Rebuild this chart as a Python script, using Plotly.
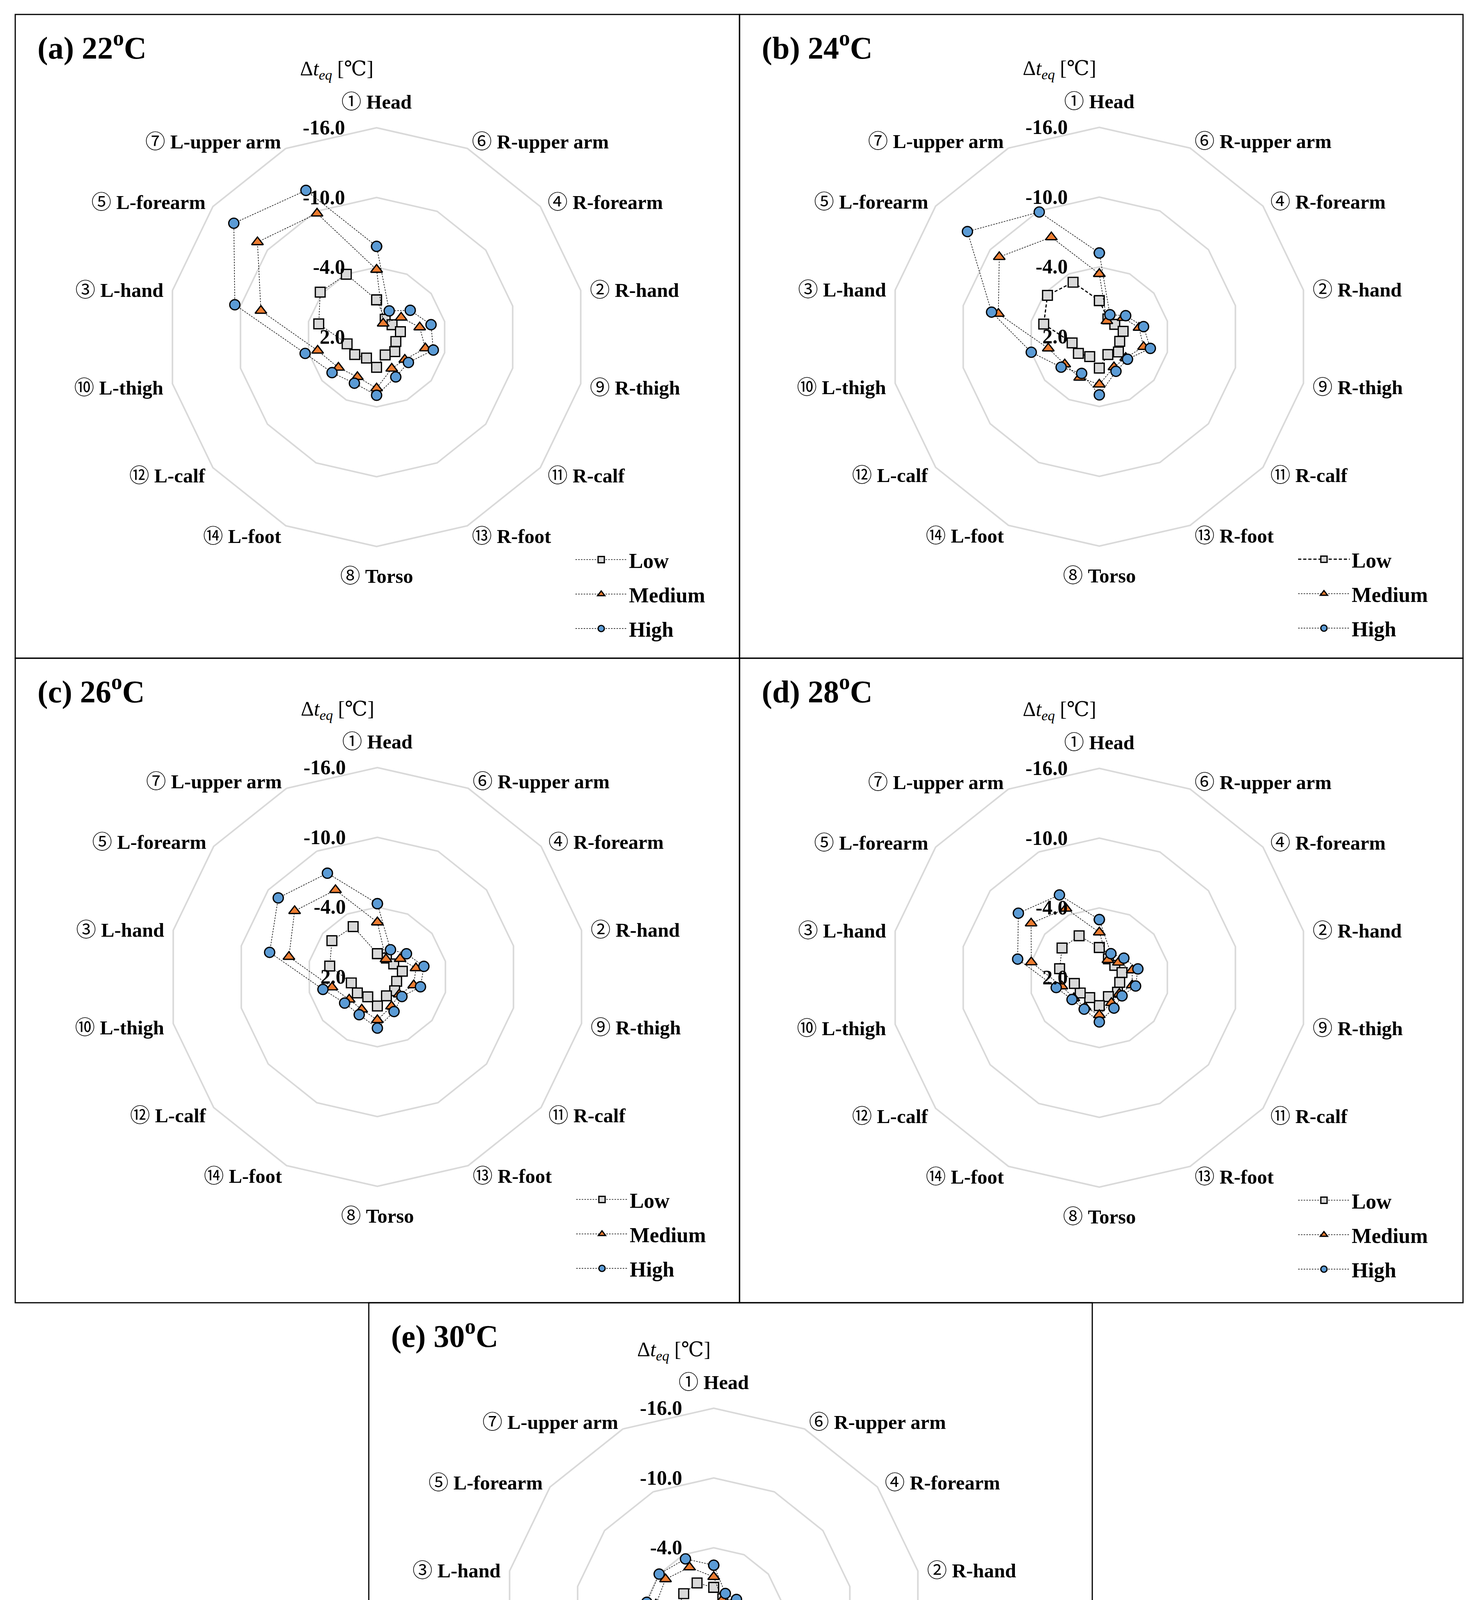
import math
import plotly.graph_objects as go

W, H = 3768, 5007

categories = ["① Head", "⑥ R-upper arm", "④ R-forearm", "② R-hand", "⑨ R-thigh",
              "⑪ R-calf", "⑬ R-foot", "⑧ Torso", "⑭ L-foot", "⑫ L-calf",
              "⑩ L-thigh", "③ L-hand", "⑤ L-forearm", "⑦ L-upper arm"]
levels = ["Low", "Medium", "High"]
panel_titles = ["(a) 22<sup>o</sup>C", "(b) 24<sup>o</sup>C", "(c) 26<sup>o</sup>C",
                "(d) 28<sup>o</sup>C", "(e) 30<sup>o</sup>C"]
tick_values = [2, -4, -10, -16]
tick_labels = ["2.0", "-4.0", "-10.0", "-16.0"]

# Delta t_eq values [°C], order as categories
low_22 = [-1.2, 0.3, 0.3, -0.1, 0.3, 0.0, 0.3, -0.6, 0.0, -0.4, -0.6, -3.1, -4.2, -4.0]
med_22 = [-3.8, 0.7, -0.7, -1.8, -2.3, -1.1, -1.0, -2.4, -1.8, -2.2, -3.2, -8.2, -11.1, -9.8]
high_22 = [-5.8, -0.5, -1.7, -2.8, -3.0, -1.5, -1.8, -3.0, -2.4, -2.9, -4.3, -10.5, -13.7, -12.0]

low_24 = [-1.1, 0.3, 0.3, -0.1, 0.2, -0.1, 0.3, -0.7, 0.1, -0.3, -0.4, -2.9, -3.7, -3.2]
med_24 = [-3.4, 0.5, -0.6, -1.5, -1.9, -0.9, -0.9, -2.1, -1.9, -1.8, -2.5, -6.9, -9.0, -7.5]
high_24 = [-5.2, -0.1, -0.9, -1.9, -2.5, -1.1, -1.3, -3.0, -1.5, -2.2, -4.0, -7.5, -12.5, -9.9]

low_26 = [0.0, 0.2, 0.2, -0.2, 0.3, 0.1, 0.2, -0.5, 0.1, -0.2, -0.3, -2.2, -3.0, -2.8]
med_26 = [-2.7, 0.3, -0.5, -1.4, -1.2, -0.4, -0.8, -1.7, -1.1, -1.1, -2.0, -5.8, -7.1, -6.3]
high_26 = [-4.3, -0.6, -1.2, -2.1, -1.8, -0.7, -1.3, -2.4, -1.6, -1.6, -2.8, -7.5, -8.9, -7.9]

low_28 = [-0.6, 0.2, 0.3, 0.0, 0.2, 0.0, 0.2, -0.4, 0.1, -0.1, -0.2, -1.5, -2.1, -2.0]
med_28 = [-1.9, 0.3, -0.1, -0.9, -0.9, -0.2, -0.4, -1.2, -0.8, -0.8, -1.3, -4.0, -5.5, -4.6]
high_28 = [-3.0, -0.3, -0.7, -1.4, -1.2, -0.5, -0.9, -1.8, -1.0, -1.0, -1.8, -5.2, -6.9, -5.9]

low_30 = [-0.6, 0.2, 0.3, -0.1, 0.2, 0.0, 0.2, -0.3, 0.2, -0.1, -0.1, -1.2, -1.3, -1.3]
med_30 = [-1.5, 0.3, -0.1, -0.6, -0.6, -0.1, 0.0, -0.6, -0.4, -0.2, -0.6, -3.1, -3.3, -2.8]
high_30 = [-2.5, -0.3, -0.5, -1.0, -0.6, -0.1, -0.4, -1.3, -0.6, -0.2, -1.0, -3.9, -4.0, -3.6]

panels = [
    (low_22, med_22, high_22),
    (low_24, med_24, high_24),
    (low_26, med_26, high_26),
    (low_28, med_28, high_28),
    (low_30, med_30, high_30),
]

# category label text: circled number in regular weight, name in bold
cat_labels = []
for c in categories:
    num, name = c.split(" ", 1)
    cat_labels.append(num + " <b>" + name + "</b>")

# layout geometry (pixels)
centers = [(956, 855), (2806, 854), (958, 2493), (2806, 2495), (1819, 4133)]
boxes = [(31, 29, 1885, 1677), (1885, 29, 3737, 1677), (31, 1677, 1885, 3327),
         (1885, 1677, 3737, 3327), (936, 3327, 2788, 4977)]
R = 536

SERIF = "Liberation Serif, DejaVu Serif, serif"
LABEL_FONT = "Liberation Serif, Noto Sans CJK KR, DejaVu Sans, serif"

styles = {
    "Low": dict(symbol="square", color="#D9D9D9", size=25),
    "Medium": dict(symbol="triangle-up", color="#ED7D31", size=26),
    "High": dict(symbol="circle", color="#5B9BD5", size=26),
}

fig = go.Figure()
layout = {}
shapes = []
annotations = []
n = len(categories)

for i, (vals, (cx, cy), box) in enumerate(zip(panels, centers, boxes)):
    pid = "polar" if i == 0 else f"polar{i+1}"
    lid = "legend" if i == 0 else f"legend{i+1}"
    for lev, v in zip(levels, vals):
        st = styles[lev]
        if i == 1 and lev == "Low":
            line = dict(color="black", width=3, dash="8px,5px")
        else:
            line = dict(color="black", width=1.5, dash="4px,3px")
        fig.add_trace(go.Scatterpolar(
            r=v + [v[0]], theta=categories + [categories[0]],
            mode="lines+markers", name=lev, subplot=pid, legend=lid,
            legendgroup=f"{lev}{i}", cliponaxis=True,
            line=line,
            marker=dict(symbol=st["symbol"], color=st["color"], size=st["size"],
                        line=dict(color="black", width=3.2)),
        ))
    layout[pid] = dict(
        domain=dict(x=[(cx - R) / W, (cx + R) / W], y=[1 - (cy + R) / H, 1 - (cy - R) / H]),
        gridshape="linear",
        bgcolor="white",
        radialaxis=dict(range=[2, -16], tickvals=tick_values, ticktext=tick_labels,
                        angle=90, side="counterclockwise", showline=False, tickangle=90,
                        gridcolor="#D9D9D9", gridwidth=4,
                        ticks="outside", ticklen=62, tickcolor="rgba(0,0,0,0)",
                        tickfont=dict(family=SERIF, size=52, color="black", weight="bold")),
        angularaxis=dict(type="category", categoryorder="array", categoryarray=categories,
                         rotation=90, direction="clockwise", showgrid=False,
                         showline=True, linecolor="#D9D9D9", linewidth=4,
                         ticks="", showticklabels=False),
    )
    layout[lid] = dict(
        x=(cx + 504) / W, y=1 - (cy + 528) / H, xanchor="left", yanchor="top",
        bgcolor="rgba(0,0,0,0)", font=dict(family=SERIF, size=54, color="black", weight="bold"),
        itemwidth=132, tracegroupgap=15, traceorder="grouped",
    )
    # category labels placed just outside the outer polygon vertices
    for k, lab in enumerate(cat_labels):
        th = math.radians(k * 360.0 / n)
        s, c = math.sin(th), math.cos(th)
        vx, vy = cx + R * s, cy - R * c
        if abs(s) < 1e-6:
            if c > 0:
                ax_, ay_, xa, ya = vx, vy - 36, "center", "bottom"
            else:
                ax_, ay_, xa, ya = vx, vy + 46, "center", "top"
        else:
            ax_, ay_ = vx + 22 * s, vy - 25 * c + 5
            xa, ya = ("left" if s > 0 else "right"), "middle"
        annotations.append(dict(text=lab, xref="paper", yref="paper",
                                x=ax_ / W, y=1 - ay_ / H, xanchor=xa, yanchor=ya,
                                showarrow=False,
                                font=dict(family=LABEL_FONT, size=51, color="black")))
    x0, y0, x1, y1 = box
    shapes.append(dict(type="rect", xref="paper", yref="paper",
                       x0=x0 / W, x1=x1 / W, y0=1 - y1 / H, y1=1 - y0 / H,
                       line=dict(color="black", width=3), fillcolor="rgba(0,0,0,0)"))
    annotations.append(dict(text="<b>" + panel_titles[i] + "</b>", xref="paper", yref="paper",
                            x=(x0 + 55) / W, y=1 - (y0 + 80) / H, xanchor="left", yanchor="middle",
                            showarrow=False, font=dict(family=SERIF, size=80, color="black")))
    annotations.append(dict(text="Δ<i>t</i><sub><i>eq</i></sub> [℃]", xref="paper", yref="paper",
                            x=(cx - 6) / W, y=1 - (cy - 683) / H, xanchor="right", yanchor="middle",
                            showarrow=False, font=dict(family=SERIF, size=52, color="black")))

fig.update_layout(width=W, height=H, autosize=False,
                  margin=dict(l=0, r=0, t=0, b=0),
                  paper_bgcolor="white", plot_bgcolor="white",
                  showlegend=True, shapes=shapes, annotations=annotations, **layout)

fig.write_html("out.html")
